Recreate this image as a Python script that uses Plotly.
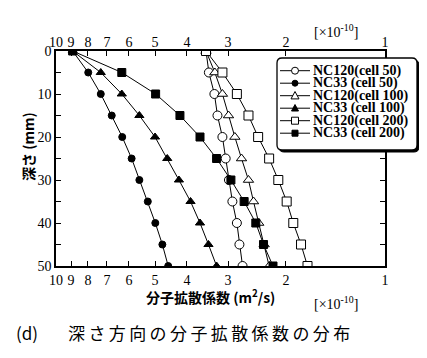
import plotly.graph_objects as go

depth = [0, 5, 10, 15, 20, 25, 30, 35, 40, 45, 50]

nc120_c50 = [3.50, 3.43, 3.30, 3.23, 3.12, 3.05, 2.98, 2.91, 2.82, 2.77, 2.71]
nc33_c50 = [8.9, 7.98, 7.31, 6.77, 6.29, 5.89, 5.58, 5.26, 4.99, 4.75, 4.56]
nc120_c100 = [3.50, 3.29, 3.12, 2.99, 2.86, 2.73, 2.60, 2.51, 2.42, 2.33, 2.25]
nc33_c100 = [8.9, 7.31, 6.31, 5.58, 5.00, 4.59, 4.23, 3.90, 3.65, 3.44, 3.25]
nc120_c200 = [3.50, 3.12, 2.82, 2.60, 2.43, 2.25, 2.11, 1.99, 1.90, 1.80, 1.72]
nc33_c200 = [8.9, 6.31, 4.98, 4.20, 3.65, 3.25, 2.94, 2.68, 2.47, 2.34, 2.19]

names = ["NC120(cell 50)", "NC33 (cell 50)", "NC120(cell 100)",
         "NC33 (cell 100)", "NC120(cell 200)", "NC33 (cell 200)"]
series = [nc120_c50, nc33_c50, nc120_c100, nc33_c100, nc120_c200, nc33_c200]
symbols = ["circle", "circle", "triangle-up", "triangle-up", "square", "square"]
fills = ["white", "black", "white", "black", "white", "black"]
sizes = [9, 7, 9, 8, 9, 8]

xticks = [10, 9, 8, 7, 6, 5, 4, 3, 2, 1]
xticktext = [str(v) for v in xticks]

SERIF = "Liberation Serif"
CJK = "Noto Sans CJK JP"

# geometry (figure pixels; page has 8px body margin)
W, H = 419, 350
ML, MR, MT, MB = 48, 42, 43, 92
PW, PH = W - ML - MR, H - MT - MB


def px(x):
    return (x - ML) / PW


def py(y):
    return (MT + PH - y) / PH


fig = go.Figure()
for nm, vals, sym, fc, sz in zip(names, series, symbols, fills, sizes):
    fig.add_trace(go.Scatter(
        x=vals, y=depth, name=nm, mode="lines+markers", showlegend=False,
        line=dict(color="black", width=1),
        marker=dict(symbol=sym, size=sz, color=fc, line=dict(color="black", width=1)),
    ))

# invisible trace to activate top axis
fig.add_trace(go.Scatter(x=[10, 1], y=[0, 0], xaxis="x2", mode="markers",
                         marker=dict(opacity=0), showlegend=False, hoverinfo="skip"))

axis_font = dict(family=SERIF, size=14, color="black")

shapes = []
annotations = []


def rrect(x0, y0, x1, y1, r):
    rx, ry = r / PW, r / PH
    X0, X1, Y0, Y1 = px(x0), px(x1), py(y0), py(y1)
    return (f"M {X0+rx},{Y0} L {X1-rx},{Y0} Q {X1},{Y0} {X1},{Y0-ry} "
            f"L {X1},{Y1+ry} Q {X1},{Y1} {X1-rx},{Y1} L {X0+rx},{Y1} "
            f"Q {X0},{Y1} {X0},{Y1+ry} L {X0},{Y0-ry} Q {X0},{Y0} {X0+rx},{Y0} Z")


# legend box with shadow
shapes.append(dict(type="path", xref="paper", yref="paper", layer="above",
                   path=rrect(271, 52, 411, 144, 5), fillcolor="black",
                   line=dict(color="black", width=1)))
shapes.append(dict(type="path", xref="paper", yref="paper", layer="above",
                   path=rrect(269, 50, 409, 142, 5), fillcolor="white",
                   line=dict(color="black", width=1.3)))

leg_sizes = [7, 6, 8, 7, 7, 6]
for i, (nm, sym, fc, sz) in enumerate(zip(names, symbols, fills, leg_sizes)):
    yc = py(62.7 + 12.5 * i)
    shapes.append(dict(type="line", xref="paper", yref="paper", layer="above",
                       x0=px(272), x1=px(302), y0=yc, y1=yc,
                       line=dict(color="black", width=1)))
    h = sz / 2
    common = dict(xref="paper", yref="paper", layer="above",
                  xsizemode="pixel", ysizemode="pixel",
                  xanchor=px(287), yanchor=yc, fillcolor=fc,
                  line=dict(color="black", width=1))
    if sym == "circle":
        shapes.append(dict(type="circle", x0=-h, x1=h, y0=-h, y1=h, **common))
    elif sym == "square":
        shapes.append(dict(type="rect", x0=-h, x1=h, y0=-h, y1=h, **common))
    else:
        shapes.append(dict(type="path",
                           path=f"M {-h},{-h*0.8} L {h},{-h*0.8} L 0,{h*1.05} Z",
                           **common))
    annotations.append(dict(text="<b>" + nm + "</b>", xref="paper", yref="paper",
                            x=px(304), y=yc, xanchor="left", yanchor="middle",
                            showarrow=False, borderpad=0,
                            font=dict(family=SERIF, size=14, color="black")))

caption_jp = "深さ方向の分子拡散係数の分布"
caption_spaced = "\u2009".join(caption_jp)

annotations += [
    dict(text="<b>深さ (mm)</b>", textangle=-90, xref="paper", yref="paper",
         x=px(8), y=py(139), showarrow=False,
         font=dict(family=CJK, size=14, color="black")),
    dict(text="<b>分子拡散係数 (m<sup>2</sup>/s)</b>", xref="paper", yref="paper",
         x=px(202), y=py(301), showarrow=False,
         font=dict(family=CJK, size=14, color="black")),
    dict(text="[×10<sup>-10</sup>]", xref="paper", yref="paper",
         x=px(352), y=py(306), showarrow=False,
         font=dict(family=SERIF, size=14, color="black")),
    dict(text="[×10<sup>-10</sup>]", xref="paper", yref="paper",
         x=px(352), y=py(12), showarrow=False,
         font=dict(family=SERIF, size=14, color="black")),
    dict(text="(d)", xref="paper", yref="paper",
         x=px(7), y=py(338), xanchor="left", showarrow=False, borderpad=0,
         font=dict(family=CJK, size=17, color="black")),
    dict(text=caption_spaced, xref="paper", yref="paper",
         x=px(59), y=py(338), xanchor="left", showarrow=False, borderpad=0,
         font=dict(family=CJK, size=17, color="black")),
]

fig.update_layout(
    width=W, height=H,
    margin=dict(l=ML, r=MR, t=MT, b=MB),
    paper_bgcolor="white", plot_bgcolor="white",
    showlegend=False,
    xaxis=dict(type="log", range=[1, 0], autorange=False,
               tickvals=xticks, ticktext=xticktext, tickfont=axis_font,
               ticks="inside", ticklen=5, tickcolor="black",
               showline=True, linecolor="black", linewidth=1.5,
               mirror="allticks", showgrid=False, zeroline=False),
    xaxis2=dict(type="log", range=[1, 0], autorange=False, overlaying="x",
                side="top", anchor="y",
                tickvals=xticks, ticktext=xticktext, tickfont=axis_font,
                ticks="", showline=False, showgrid=False, zeroline=False),
    yaxis=dict(range=[50, 0], autorange=False, tickvals=[0, 10, 20, 30, 40, 50],
               tickfont=axis_font, ticks="inside", ticklen=5, tickcolor="black",
               minor=dict(dtick=5, ticks="inside", ticklen=4, tickcolor="black"),
               showline=True, linecolor="black", linewidth=1.5,
               mirror="allticks", showgrid=False, zeroline=False),
    shapes=shapes,
    annotations=annotations,
)

fig.write_html("out.html")
